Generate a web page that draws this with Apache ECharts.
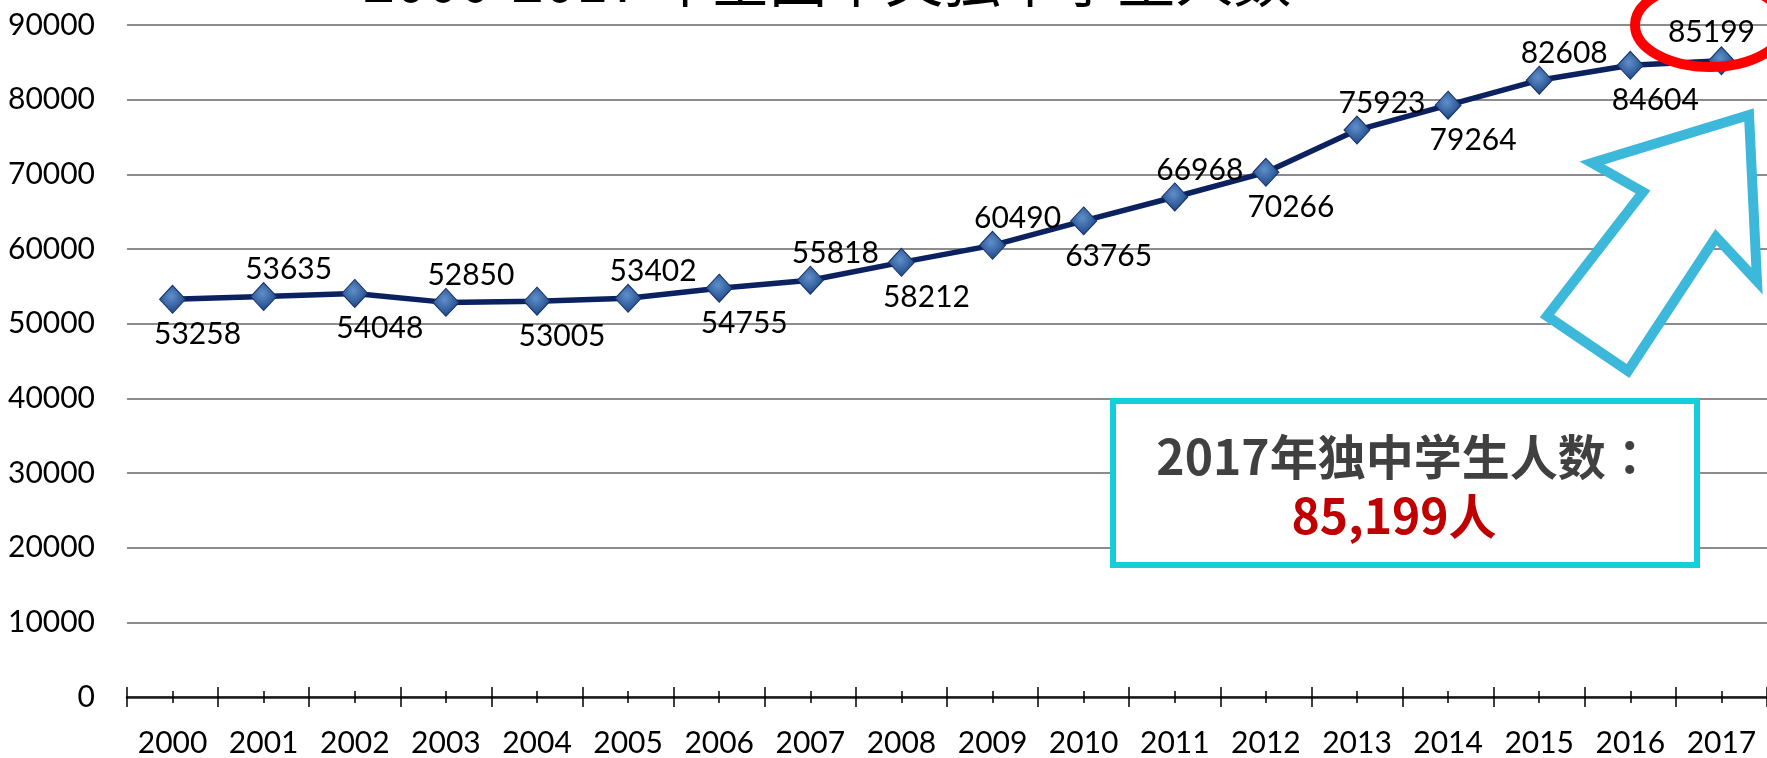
<!DOCTYPE html>
<html>
<head>
<meta charset="utf-8">
<script src="https://cdn.jsdelivr.net/npm/echarts@6/dist/echarts.min.js"></script>
<style>
  html, body { margin: 0; padding: 0; background: #fff; }
  #main { width: 1767px; height: 758px; }
</style>
</head>
<body>
<div id="main"></div>
<script>
// 年份 & 独中学生人数
var years = ['2000', '2001', '2002', '2003', '2004', '2005', '2006', '2007', '2008',
  '2009', '2010', '2011', '2012', '2013', '2014', '2015', '2016', '2017'];
var students = [53258, 53635, 54048, 52850, 53005, 53402, 54755, 55818, 58212,
  60490, 63765, 66968, 70266, 75923, 79264, 82608, 84604, 85199];
var yTicks = [0, 10000, 20000, 30000, 40000, 50000, 60000, 70000, 80000, 90000];

var chart = echarts.init(document.getElementById('main'));

// 标签上下交替
var seriesData = students.map(function (v, i) {
  var up = i % 2 === 1;
  var item = { value: v, label: { offset: up ? [25, -27] : [25, 35] } };
  if (i === students.length - 1) item.label.offset = [-10, -29];
  return item;
});

var labelFont = { fontFamily: 'Lato', fontSize: 30, color: '#000' };

var tickAxis = function (offset, len, align) {
  return {
    type: 'category',
    data: years,
    position: 'bottom',
    offset: offset,
    axisLine: { show: false },
    axisLabel: { show: false },
    axisTick: { show: true, alignWithLabel: align, length: len, lineStyle: { color: '#000', width: 1.5 } },
    splitLine: { show: false }
  };
};

chart.setOption({
  animation: false,
  grid: { left: 127, right: 0, top: 25, bottom: 58 },
  xAxis: [
    {
      type: 'category',
      data: years,
      position: 'bottom',
      axisLine: { lineStyle: { color: '#1a1a1a', width: 2.5 } },
      axisTick: { show: false },
      axisLabel: Object.assign({ margin: 31 }, labelFont),
      splitLine: { show: false }
    },
    tickAxis(-10, 20, false),
    tickAxis(-6, 12, true)
  ],
  yAxis: {
    type: 'value',
    min: yTicks[0],
    max: yTicks[yTicks.length - 1],
    interval: 10000,
    axisLine: { show: false },
    axisTick: { show: false },
    axisLabel: Object.assign({ margin: 32, formatter: function (v) { return String(v); } }, labelFont),
    splitLine: { lineStyle: { color: '#8c8c8c', width: 2 } }
  },
  series: [{
    type: 'line',
    data: seriesData,
    symbol: 'diamond',
    symbolSize: [26, 28],
    lineStyle: { color: '#0b2160', width: 5.5 },
    itemStyle: {
      color: new echarts.graphic.RadialGradient(0.45, 0.4, 0.6, [
        { offset: 0, color: '#5f90cc' },
        { offset: 1, color: '#1c4482' }
      ]),
      borderColor: '#14306a',
      borderWidth: 1
    },
    label: Object.assign({ show: true, position: 'inside' }, labelFont),
    z: 3
  }],
  graphic: [
    {
      type: 'text',
      x: 827, y: -20,
      style: {
        text: '2000-2017 年全国华文独中学生人数',
        x: 0, y: 0,
        align: 'center', verticalAlign: 'middle',
        font: '58px "Noto Sans CJK SC"',
        fill: '#000'
      },
      z: 10
    },
    {
      type: 'ellipse',
      shape: { cx: 1710, cy: 25, rx: 75, ry: 42 },
      style: { fill: 'none', stroke: '#ff0000', lineWidth: 10 },
      z: 20
    },
    {
      type: 'polygon',
      shape: {
        points: [[1749, 115], [1592, 163], [1643, 192], [1547, 316],
          [1628, 371], [1716, 237], [1757, 281]]
      },
      style: { fill: '#fff', stroke: '#3cb8da', lineWidth: 10, lineJoin: 'miter' },
      z: 20
    },
    {
      type: 'rect',
      shape: { x: 1113, y: 401, width: 584, height: 164 },
      style: { fill: '#fff', stroke: '#14cfdb', lineWidth: 6 },
      z: 20
    },
    {
      type: 'text',
      style: {
        text: '2017年独中学生人数：',
        x: 1405, y: 457,
        align: 'center', verticalAlign: 'middle',
        font: 'bold 48px "Noto Sans CJK TC"',
        fill: '#404040'
      },
      z: 21
    },
    {
      type: 'text',
      style: {
        text: '85,199人',
        x: 1394, y: 516,
        align: 'center', verticalAlign: 'middle',
        font: 'bold 48px "Noto Sans CJK SC"',
        fill: '#c00000'
      },
      z: 21
    }
  ]
});
</script>
</body>
</html>
